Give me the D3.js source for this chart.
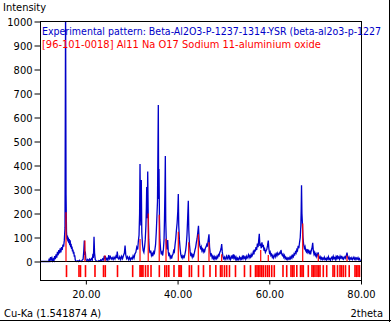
<!DOCTYPE html>
<html>
<head>
<meta charset="utf-8">
<script src="https://cdn.jsdelivr.net/npm/d3@7"></script>
<style>
  html, body { margin: 0; padding: 0; background: #fff; }
  svg { display: block; }
  text { font-family: "DejaVu Sans Condensed", "DejaVu Sans", sans-serif; font-size: 11px; }
</style>
</head>
<body>
<svg id="chart" width="391" height="322"></svg>
<script>
// ---------- DATA ----------
const xTicks = [20, 40, 60, 80];
const yTicks = [0, 100, 200, 300, 400, 500, 600, 700, 800, 900, 1000];
const legendLabels = [
  "Experimental pattern: Beta-Al2O3-P-1237-1314-YSR (beta-al2o3-p-1227",
  "[96-101-0018] Al11 Na O17 Sodium 11-aluminium oxide"
];
const axisTitles = ["Intensity", "Cu-Ka (1.541874 A)", "2theta"];

// experimental pattern [2theta, intensity]
const expPattern = [
[10.0,0],[11.9,0],[12.0,12],[12.15,4],[12.3,18],[12.45,7],[12.6,15],[12.75,3],[12.9,10],[13.05,4],[13.2,22],[13.35,10],[13.5,30],[13.65,16],[13.8,40],[13.95,26],[14.1,48],[14.25,34],[14.4,55],[14.55,38],[14.7,60],[14.85,48],[15.0,70],[15.15,62],[15.3,88],[15.45,140],[15.58,1080],[15.68,280],[15.78,125],[15.88,92],[15.98,108],[16.08,84],[16.18,100],[16.28,76],[16.38,94],[16.48,68],[16.58,88],[16.68,60],[16.78,74],[16.88,52],[16.98,62],[17.08,42],[17.18,50],[17.28,33],[17.38,40],[17.48,20],[17.58,26],[17.68,8],[17.8,2],[18.0,0],[18.2,3],[18.4,0],[18.6,5],[18.8,1],[19.0,0],[19.2,6],[19.4,10],[19.55,45],[19.66,87],[19.76,28],[19.88,42],[20.0,8],[20.2,4],[20.4,9],[20.6,2],[20.8,10],[21.0,4],[21.2,12],[21.4,6],[21.55,32],[21.65,15],[21.78,103],[21.9,35],[22.05,8],[22.25,3],[22.45,1],[22.65,0],[22.85,4],[23.05,2],[23.25,7],[23.45,3],[23.65,11],[23.85,7],[24.0,24],[24.12,10],[24.25,22],[24.4,6],[24.6,13],[24.8,5],[25.0,27],[25.15,12],[25.35,20],[25.55,10],[25.75,16],[25.95,8],[26.15,18],[26.35,10],[26.55,22],[26.7,14],[26.85,41],[27.0,15],[27.2,10],[27.4,20],[27.6,8],[27.8,22],[28.0,12],[28.2,25],[28.4,35],[28.55,66],[28.7,28],[28.9,12],[29.1,20],[29.3,8],[29.5,18],[29.7,6],[29.9,15],[30.1,10],[30.3,24],[30.5,14],[30.7,32],[30.9,38],[31.1,60],[31.3,50],[31.45,85],[31.6,110],[31.72,200],[31.81,406],[31.9,210],[32.0,150],[32.09,340],[32.2,120],[32.35,70],[32.5,45],[32.65,38],[32.8,60],[32.95,90],[33.1,150],[33.2,230],[33.27,310],[33.38,180],[33.49,375],[33.6,190],[33.72,90],[33.85,50],[34.0,35],[34.15,45],[34.3,25],[34.45,32],[34.6,22],[34.75,38],[34.9,30],[35.05,48],[35.2,70],[35.35,120],[35.5,190],[35.62,250],[35.8,652],[35.88,260],[35.95,385],[36.05,180],[36.15,90],[36.3,50],[36.45,30],[36.6,38],[36.75,25],[36.9,48],[37.05,90],[37.15,180],[37.25,300],[37.33,440],[37.42,170],[37.55,75],[37.7,50],[37.85,89],[37.97,40],[38.1,22],[38.25,30],[38.4,15],[38.55,22],[38.7,12],[38.85,25],[39.0,30],[39.15,45],[39.3,40],[39.45,70],[39.6,95],[39.75,130],[39.9,160],[40.05,210],[40.16,281],[40.26,150],[40.4,90],[40.55,55],[40.7,30],[40.85,18],[41.0,24],[41.15,14],[41.3,22],[41.45,18],[41.6,30],[41.75,45],[41.9,70],[42.05,110],[42.2,180],[42.34,253],[42.45,130],[42.6,70],[42.75,40],[42.9,22],[43.05,30],[43.2,18],[43.35,28],[43.5,22],[43.65,35],[43.8,48],[43.95,60],[44.1,80],[44.25,95],[44.4,120],[44.56,149],[44.7,90],[44.85,65],[45.0,55],[45.15,62],[45.3,45],[45.45,52],[45.6,40],[45.75,48],[45.9,42],[46.05,55],[46.2,60],[46.35,70],[46.5,62],[46.65,85],[46.85,113],[46.98,60],[47.1,38],[47.25,25],[47.4,30],[47.55,15],[47.7,22],[47.85,12],[48.0,20],[48.15,10],[48.3,18],[48.45,12],[48.6,22],[48.75,16],[48.9,28],[49.05,24],[49.2,38],[49.35,45],[49.5,55],[49.62,73],[49.75,40],[49.9,20],[50.05,12],[50.2,18],[50.35,8],[50.5,15],[50.65,22],[50.8,10],[50.95,16],[51.1,28],[51.25,12],[51.4,20],[51.55,8],[51.7,14],[51.85,25],[52.0,12],[52.15,30],[52.3,15],[52.45,22],[52.6,10],[52.75,18],[52.9,8],[53.05,14],[53.2,6],[53.35,12],[53.5,18],[53.65,8],[53.8,15],[53.95,10],[54.1,20],[54.25,12],[54.4,25],[54.55,14],[54.7,18],[54.85,10],[55.0,22],[55.15,14],[55.3,20],[55.45,28],[55.6,16],[55.75,24],[55.9,18],[56.05,30],[56.2,22],[56.35,28],[56.5,40],[56.65,30],[56.8,50],[56.95,42],[57.1,60],[57.25,48],[57.4,75],[57.55,60],[57.7,90],[57.82,115],[57.95,65],[58.1,75],[58.25,55],[58.4,80],[58.55,60],[58.7,70],[58.85,45],[59.0,52],[59.15,38],[59.3,45],[59.45,50],[59.6,65],[59.78,87],[59.9,55],[60.05,35],[60.2,40],[60.35,25],[60.5,30],[60.65,18],[60.8,25],[60.95,15],[61.1,22],[61.25,30],[61.4,20],[61.55,32],[61.7,25],[61.85,35],[62.0,28],[62.15,30],[62.3,38],[62.45,35],[62.55,48],[62.7,32],[62.85,25],[63.0,30],[63.15,18],[63.3,25],[63.45,12],[63.6,18],[63.75,10],[63.9,15],[64.05,8],[64.2,14],[64.35,10],[64.5,18],[64.65,12],[64.8,22],[64.95,15],[65.1,25],[65.25,20],[65.4,32],[65.55,28],[65.7,40],[65.85,35],[66.0,50],[66.15,45],[66.3,65],[66.45,55],[66.6,80],[66.75,100],[66.88,150],[66.96,220],[67.03,318],[67.12,200],[67.22,160],[67.35,100],[67.5,70],[67.65,55],[67.8,62],[67.95,45],[68.1,40],[68.25,52],[68.4,38],[68.55,45],[68.7,35],[68.85,42],[69.0,30],[69.15,45],[69.3,55],[69.47,78],[69.6,45],[69.75,30],[69.9,38],[70.05,25],[70.2,32],[70.35,20],[70.5,28],[70.65,38],[70.8,22],[70.95,15],[71.1,20],[71.25,10],[71.4,16],[71.55,8],[71.7,14],[71.85,10],[72.0,18],[72.15,8],[72.3,12],[72.45,6],[72.6,15],[72.75,10],[72.9,20],[73.05,8],[73.2,12],[73.35,5],[73.5,14],[73.65,18],[73.8,10],[73.95,22],[74.1,12],[74.25,16],[74.4,8],[74.55,20],[74.7,12],[74.85,25],[75.0,14],[75.15,18],[75.3,10],[75.45,22],[75.6,15],[75.75,20],[75.9,12],[76.05,18],[76.2,10],[76.35,15],[76.5,20],[76.65,14],[76.8,25],[76.95,37],[77.1,20],[77.25,12],[77.4,18],[77.55,8],[77.7,14],[77.85,10],[78.0,16],[78.15,8],[78.3,12],[78.45,18],[78.6,10],[78.75,15],[78.9,8],[79.05,14],[79.2,10],[79.35,16],[79.5,8],[79.65,12],[79.8,5],[79.9,0]
];

// reference pattern sticks [2theta, intensity]
const refPeaks = [
[15.67,205],[19.8,88],[24.17,26],[31.81,94],[33.6,200],[36.0,195],[37.48,95],[40.16,124],[42.43,80],[44.52,114],[46.85,80],[49.62,30],[58.13,48],[59.78,27],[67.29,158],[70.69,30],[76.95,25]
];

// reference reflection positions (tick marks below the baseline)
const refPositions = [
15.78,18.50,18.83,19.92,21.99,23.85,24.24,26.90,30.21,31.81,32.03,32.24,32.46,33.01,33.55,34.21,36.02,37.21,37.63,38.09,39.22,40.31,40.53,40.81,42.56,43.04,44.56,45.65,47.07,48.34,49.36,49.69,50.23,50.71,51.32,52.63,54.59,55.90,56.99,57.32,57.65,57.97,58.35,58.70,59.17,59.61,60.00,60.53,61.09,62.99,63.80,64.73,65.06,65.39,66.00,66.81,67.13,67.42,68.51,69.31,69.64,69.97,70.40,70.73,71.06,71.78,72.52,73.89,74.22,74.88,75.42,75.75,76.14,76.62,77.43,78.69,79.02,79.35,79.67
];

// ---------- CHART ----------
const svg = d3.select("#chart");
const W = 391, H = 322;
const frame = {left: 40, right: 362, top: 21, bottom: 281};

const x = d3.scaleLinear().domain([10, 80]).range([40, 361]);
const y = d3.scaleLinear().domain([0, 1000]).range([261.5, 21.5]);

const BLUE = "#0000c8", RED = "#ff0000";

svg.append("defs").append("clipPath").attr("id", "plotclip")
  .append("rect")
  .attr("x", frame.left).attr("y", frame.top)
  .attr("width", frame.right - frame.left).attr("height", frame.bottom - frame.top);

const plot = svg.append("g").attr("clip-path", "url(#plotclip)");

// experimental line
plot.append("path")
  .datum(expPattern)
  .attr("fill", "none")
  .attr("stroke", BLUE)
  .attr("stroke-width", 1.3)
  .attr("stroke-linejoin", "miter")
  .attr("d", d3.line().x(d => x(d[0])).y(d => y(d[1])));

// zero line
plot.append("line")
  .attr("x1", frame.left).attr("x2", frame.right)
  .attr("y1", y(0)).attr("y2", y(0))
  .attr("stroke", "#000").attr("stroke-width", 1);

// reference sticks
plot.selectAll("line.stick").data(refPeaks).enter().append("line")
  .attr("class", "stick")
  .attr("x1", d => x(d[0])).attr("x2", d => x(d[0]))
  .attr("y1", y(0)).attr("y2", d => y(d[1]))
  .attr("stroke", RED).attr("stroke-width", 1.2);

// reflection ticks
plot.selectAll("line.refl").data(refPositions).enter().append("line")
  .attr("class", "refl")
  .attr("x1", d => x(d)).attr("x2", d => x(d))
  .attr("y1", y(-15)).attr("y2", y(-65))
  .attr("stroke", RED).attr("stroke-width", 1.6);

// frame
svg.append("rect")
  .attr("x", frame.left + 0.5).attr("y", frame.top + 0.5)
  .attr("width", frame.right - frame.left - 1).attr("height", frame.bottom - frame.top - 1)
  .attr("fill", "none").attr("stroke", "#000").attr("stroke-width", 1);

// y axis
const yAxis = svg.append("g")
  .attr("transform", `translate(${frame.left + 0.5},0)`)
  .call(d3.axisLeft(y).tickValues(yTicks).tickSize(6).tickPadding(2).tickFormat(d3.format("d")));
yAxis.select(".domain").remove();
yAxis.selectAll("text").attr("fill", "#000").style("font-size", "11px")
  .style("font-family", '"DejaVu Sans Condensed", "DejaVu Sans", sans-serif');
yAxis.selectAll("line").attr("stroke", "#000");

// x axis
const xAxis = svg.append("g")
  .attr("transform", `translate(0,${frame.bottom - 0.5})`)
  .call(d3.axisBottom(x).tickValues(xTicks).tickSize(4).tickPadding(6).tickFormat(d3.format(".2f")));
xAxis.select(".domain").remove();
xAxis.selectAll("text").attr("fill", "#000").style("font-size", "11px")
  .style("font-family", '"DejaVu Sans Condensed", "DejaVu Sans", sans-serif');
xAxis.selectAll("line").attr("stroke", "#000");

// legend texts
svg.append("text").attr("x", 42).attr("y", 35).attr("fill", BLUE)
  .style("font-size", "10.5px").text(legendLabels[0]);
svg.append("text").attr("x", 42).attr("y", 48).attr("fill", RED).text(legendLabels[1]);

// titles
svg.append("text").attr("x", 3).attr("y", 11).attr("fill", "#000").text(axisTitles[0]);
svg.append("text").attr("x", 4).attr("y", 317).attr("fill", "#000").text(axisTitles[1]);
svg.append("text").attr("x", 383).attr("y", 317).attr("text-anchor", "end").attr("fill", "#000").text(axisTitles[2]);

// outer border (right / bottom)
svg.append("line").attr("x1", 0).attr("x2", W).attr("y1", 320.5).attr("y2", 320.5)
  .attr("stroke", "#000").attr("stroke-width", 1);
svg.append("line").attr("x1", 389.5).attr("x2", 389.5).attr("y1", 0).attr("y2", H)
  .attr("stroke", "#000").attr("stroke-width", 1);
</script>
</body>
</html>
